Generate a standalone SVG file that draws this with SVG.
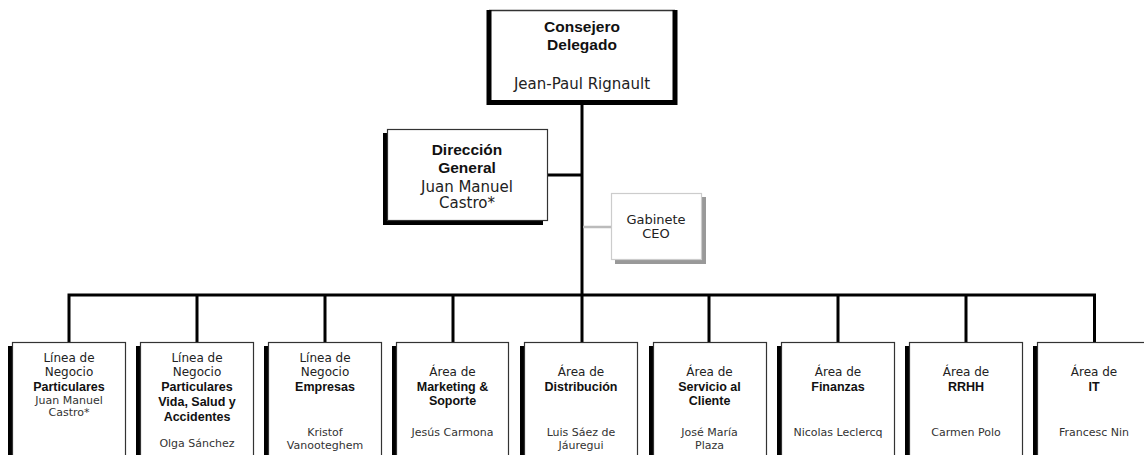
<svg xmlns="http://www.w3.org/2000/svg" width="1144" height="455" viewBox="0 0 1144 455">
<style>
.reg{font-family:"DejaVu Sans",sans-serif;fill:#222;text-anchor:middle}
.b{font-family:"Liberation Sans",Arial,sans-serif;font-weight:bold;fill:#111;text-anchor:middle}
.nm{font-family:"DejaVu Sans",sans-serif;fill:#333;text-anchor:middle;font-size:11px}
.box{fill:#fff;stroke:#333;stroke-width:1.2}
.sh{fill:#000}
.ln{stroke:#000;stroke-width:3;fill:none}
.s12{font-size:12px}
.bs{font-size:12.5px}
</style>
<rect width="1144" height="455" fill="#fff"/>
<g id="connectors">
<path class="ln" d="M582,102 V295"/>
<path class="ln" d="M547,175 H582"/>
<path d="M583,227 H611" stroke="#bbb" stroke-width="2.5" fill="none"/>
<path class="ln" d="M69,342 V295 H1094.5 V342"/>
<path class="ln" d="M197,295 V342 M325,295 V342 M453,295 V342 M582,295 V342 M709,295 V342 M838,295 V342 M966,295 V342"/>
</g>
<g id="ceo">
<rect x="489" y="10" width="186" height="92" fill="#fff"/>
<path d="M489,10.5 H675" stroke="#333" stroke-width="1.5"/>
<path d="M489,10 V102.5 H675 V10" stroke="#000" stroke-width="5" fill="none"/>
<text class="b" x="582" y="32" font-size="15.5">Consejero</text>
<text class="b" x="582" y="50" font-size="15.5">Delegado</text>
<text class="reg" x="582" y="89" font-size="15">Jean-Paul Rignault</text>
</g>
<g id="direccion">
<rect class="sh" x="383" y="133" width="160" height="92"/>
<rect class="box" x="387.5" y="129.5" width="160" height="91"/>
<text class="b" x="467" y="155" font-size="15.5">Dirección</text>
<text class="b" x="467" y="173" font-size="15.5">General</text>
<text class="reg" x="467" y="192" font-size="15" fill="#333">Juan Manuel</text>
<text class="reg" x="467" y="208" font-size="15">Castro*</text>
</g>
<g id="gabinete">
<rect x="615" y="197" width="91" height="67" fill="#999"/>
<rect x="611.5" y="193.5" width="90" height="66" fill="#fff" stroke="#ccc" stroke-width="1.2"/>
<text class="reg" x="656" y="224" font-size="13">Gabinete</text>
<text class="reg" x="656" y="238" font-size="13">CEO</text>
</g>
<g id="n1">
<rect class="sh" x="8" y="346" width="113" height="120"/>
<rect class="box" x="12.5" y="342.5" width="113" height="120"/>
<text class="reg s12" x="69" y="362">Línea de</text>
<text class="reg s12" x="69" y="376">Negocio</text>
<text class="b bs" x="69" y="391">Particulares</text>
<text class="nm" x="69" y="404">Juan Manuel</text>
<text class="nm" x="69" y="416">Castro*</text>
</g>
<g id="n2">
<rect class="sh" x="136" y="346" width="113" height="120"/>
<rect class="box" x="140.5" y="342.5" width="113" height="120"/>
<text class="reg s12" x="197" y="362">Línea de</text>
<text class="reg s12" x="197" y="376">Negocio</text>
<text class="b bs" x="197" y="391">Particulares</text>
<text class="b bs" x="197" y="406">Vida, Salud y</text>
<text class="b bs" x="197" y="421">Accidentes</text>
<text class="nm" x="197" y="447">Olga Sánchez</text>
</g>
<g id="n3">
<rect class="sh" x="264" y="346" width="113" height="120"/>
<rect class="box" x="268.5" y="342.5" width="113" height="120"/>
<text class="reg s12" x="325" y="362">Línea de</text>
<text class="reg s12" x="325" y="376">Negocio</text>
<text class="b bs" x="325" y="391">Empresas</text>
<text class="nm" x="325" y="436">Kristof</text>
<text class="nm" x="325" y="449">Vanooteghem</text>
</g>
<g id="n4">
<rect class="sh" x="392" y="346" width="113" height="120"/>
<rect class="box" x="396.5" y="342.5" width="112" height="120"/>
<text class="reg s12" x="452.5" y="376">Área de</text>
<text class="b bs" x="452.5" y="391">Marketing &amp;</text>
<text class="b bs" x="452.5" y="405">Soporte</text>
<text class="nm" x="452.5" y="436">Jesús Carmona</text>
</g>
<g id="n5">
<rect class="sh" x="520" y="346" width="113" height="120"/>
<rect class="box" x="524.5" y="342.5" width="113" height="120"/>
<text class="reg s12" x="581" y="376">Área de</text>
<text class="b bs" x="581" y="391">Distribución</text>
<text class="nm" x="581" y="436">Luis Sáez de</text>
<text class="nm" x="581" y="449">Jáuregui</text>
</g>
<g id="n6">
<rect class="sh" x="649" y="346" width="113" height="120"/>
<rect class="box" x="653.5" y="342.5" width="113" height="120"/>
<text class="reg s12" x="709.5" y="376">Área de</text>
<text class="b bs" x="709.5" y="391">Servicio al</text>
<text class="b bs" x="709.5" y="405">Cliente</text>
<text class="nm" x="709.5" y="436">José María</text>
<text class="nm" x="709.5" y="449">Plaza</text>
</g>
<g id="n7">
<rect class="sh" x="777" y="346" width="113" height="120"/>
<rect class="box" x="781.5" y="342.5" width="113" height="120"/>
<text class="reg s12" x="838" y="376">Área de</text>
<text class="b bs" x="838" y="391">Finanzas</text>
<text class="nm" x="838" y="436">Nicolas Leclercq</text>
</g>
<g id="n8">
<rect class="sh" x="905" y="346" width="113" height="120"/>
<rect class="box" x="909.5" y="342.5" width="113" height="120"/>
<text class="reg s12" x="966" y="376">Área de</text>
<text class="b bs" x="966" y="391">RRHH</text>
<text class="nm" x="966" y="436">Carmen Polo</text>
</g>
<g id="n9">
<rect class="sh" x="1033" y="346" width="113" height="120"/>
<rect class="box" x="1037.5" y="342.5" width="113" height="120"/>
<text class="reg s12" x="1094" y="376">Área de</text>
<text class="b bs" x="1094" y="391">IT</text>
<text class="nm" x="1094" y="436">Francesc Nin</text>
</g>
</svg>
